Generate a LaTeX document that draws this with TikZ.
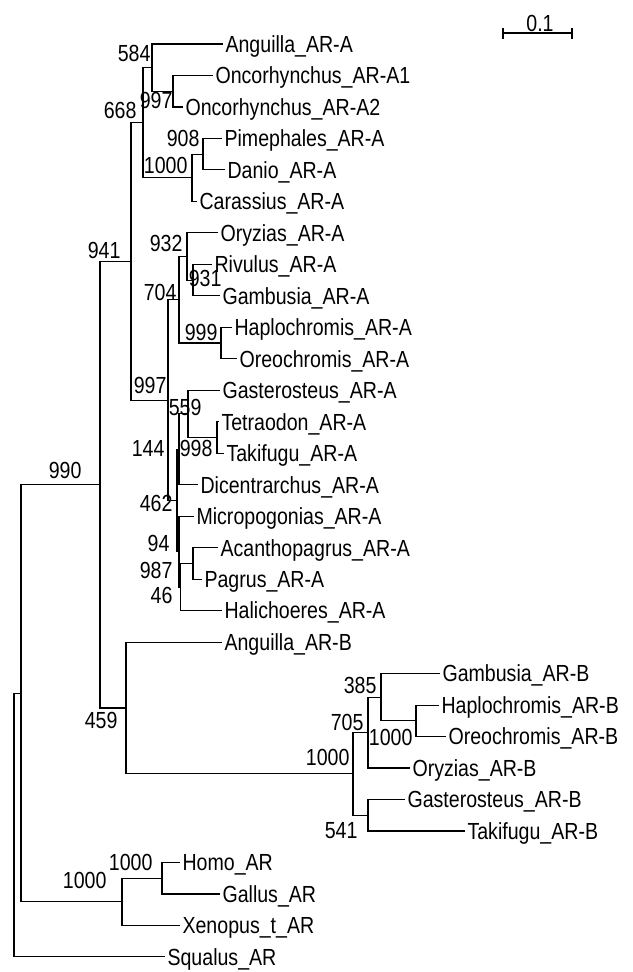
\documentclass[tikz,border=0pt]{standalone}
\usepackage{fontspec}
\setmainfont{Liberation Sans}[FakeStretch=0.84]
\begin{document}
\begin{tikzpicture}[x=1pt, y=-1pt, line width=1.1pt, leaf/.style={anchor=west, inner xsep=2pt, inner ysep=0pt, text height=16.7pt, text depth=0pt, font=\fontsize{23.3}{28}\selectfont}, boot/.style={leaf, anchor=east, inner xsep=0pt}]
	\useasboundingbox (0,0) rectangle (632,972);
	% internal nodes
	\coordinate (nOnc) at (173,91.2);
	\coordinate (n584) at (152,67.6);
	\coordinate (n908) at (203,154.2);
	\coordinate (nCyp) at (192,177.8);
	\coordinate (n668) at (143,122.7);
	\coordinate (n931) at (193,280.1);
	\coordinate (n932) at (187,256.5);
	\coordinate (n999) at (221,343.0);
	\coordinate (n704) at (179,299.8);
	\coordinate (n998) at (217,437.5);
	\coordinate (n559) at (188,413.9);
	\coordinate (n144) at (179,449.3);
	\coordinate (nSpar) at (193,563.4);
	\coordinate (n46) at (180.5,587.0);
	\coordinate (n94) at (179,551.6);
	\coordinate (n462) at (177,500.5);
	\coordinate (n997) at (168,400.1);
	\coordinate (n941) at (131,261.4);
	\coordinate (nHO) at (416,720.8);
	\coordinate (n385) at (381,697.2);
	\coordinate (n705) at (368,732.6);
	\coordinate (n541) at (368,815.2);
	\coordinate (nB) at (353,773.9);
	\coordinate (n459) at (126,708.0);
	\coordinate (n990) at (100,484.7);
	\coordinate (nHG) at (162,878.2);
	\coordinate (nTet) at (122,901.8);
	\coordinate (nOst) at (21,693.2);
	\coordinate (nRoot) at (14,825.1);
	% leaves
	\node[leaf] (angA) at (223,44.0) {Anguilla\_AR-A};
	\node[leaf] (oncA1) at (213,75.5) {Oncorhynchus\_AR-A1};
	\node[leaf] (oncA2) at (183,107.0) {Oncorhynchus\_AR-A2};
	\node[leaf] (pimA) at (222,138.4) {Pimephales\_AR-A};
	\node[leaf] (danA) at (225,169.9) {Danio\_AR-A};
	\node[leaf] (carA) at (197,201.4) {Carassius\_AR-A};
	\node[leaf] (oryA) at (218,232.9) {Oryzias\_AR-A};
	\node[leaf] (rivA) at (212,264.4) {Rivulus\_AR-A};
	\node[leaf] (gamA) at (220,295.8) {Gambusia\_AR-A};
	\node[leaf] (hapA) at (232,327.3) {Haplochromis\_AR-A};
	\node[leaf] (oreA) at (237,358.8) {Oreochromis\_AR-A};
	\node[leaf] (gasA) at (220,390.3) {Gasterosteus\_AR-A};
	\node[leaf] (tetA) at (219,421.8) {Tetraodon\_AR-A};
	\node[leaf] (takA) at (224,453.2) {Takifugu\_AR-A};
	\node[leaf] (dicA) at (198,484.7) {Dicentrarchus\_AR-A};
	\node[leaf] (micA) at (194,516.2) {Micropogonias\_AR-A};
	\node[leaf] (acaA) at (218,547.7) {Acanthopagrus\_AR-A};
	\node[leaf] (pagA) at (202,579.2) {Pagrus\_AR-A};
	\node[leaf] (halA) at (222,610.6) {Halichoeres\_AR-A};
	\node[leaf] (angB) at (222,642.1) {Anguilla\_AR-B};
	\node[leaf] (gamB) at (440,673.6) {Gambusia\_AR-B};
	\node[leaf] (hapB) at (439,705.1) {Haplochromis\_AR-B};
	\node[leaf] (oreB) at (446,736.6) {Oreochromis\_AR-B};
	\node[leaf] (oryB) at (410,768.0) {Oryzias\_AR-B};
	\node[leaf] (gasB) at (405,799.5) {Gasterosteus\_AR-B};
	\node[leaf] (takB) at (465,831.0) {Takifugu\_AR-B};
	\node[leaf] (homo) at (180,862.5) {Homo\_AR};
	\node[leaf] (gallus) at (220,894.0) {Gallus\_AR};
	\node[leaf] (xeno) at (180,925.4) {Xenopus\_t\_AR};
	\node[leaf] (squalus) at (165,956.9) {Squalus\_AR};
	% branches
	\draw (n584) |- (angA.west);
	\draw (n584) |- (nOnc);
	\draw (nOnc) |- (oncA1.west);
	\draw (nOnc) |- (oncA2.west);
	\draw (n908) |- (pimA.west);
	\draw (n908) |- (danA.west);
	\draw (nCyp) |- (n908);
	\draw (nCyp) |- (carA.west);
	\draw (n668) |- (n584);
	\draw (n668) |- (nCyp);
	\draw (n931) |- (rivA.west);
	\draw (n931) |- (gamA.west);
	\draw (n932) |- (oryA.west);
	\draw (n932) |- (n931);
	\draw (n999) |- (hapA.west);
	\draw (n999) |- (oreA.west);
	\draw (n704) |- (n932);
	\draw (n704) |- (n999);
	\draw (n998) |- (tetA.west);
	\draw (n998) |- (takA.west);
	\draw (n559) |- (gasA.west);
	\draw (n559) |- (n998);
	\draw (n144) |- (n559);
	\draw (n144) |- (dicA.west);
	\draw (nSpar) |- (acaA.west);
	\draw (nSpar) |- (pagA.west);
	\draw (n46) |- (nSpar);
	\draw (n46) |- (halA.west);
	\draw (n94) |- (micA.west);
	\draw (n94) |- (n46);
	\draw (n462) |- (n144);
	\draw (n462) |- (n94);
	\draw (n997) |- (n704);
	\draw (n997) |- (n462);
	\draw (n941) |- (n668);
	\draw (n941) |- (n997);
	\draw (nHO) |- (hapB.west);
	\draw (nHO) |- (oreB.west);
	\draw (n385) |- (gamB.west);
	\draw (n385) |- (nHO);
	\draw (n705) |- (n385);
	\draw (n705) |- (oryB.west);
	\draw (n541) |- (gasB.west);
	\draw (n541) |- (takB.west);
	\draw (nB) |- (n705);
	\draw (nB) |- (n541);
	\draw (n459) |- (angB.west);
	\draw (n459) |- (nB);
	\draw (n990) |- (n941);
	\draw (n990) |- (n459);
	\draw (nHG) |- (homo.west);
	\draw (nHG) |- (gallus.west);
	\draw (nTet) |- (nHG);
	\draw (nTet) |- (xeno.west);
	\draw (nOst) |- (n990);
	\draw (nOst) |- (nTet);
	\draw (nRoot) |- (nOst);
	\draw (nRoot) |- (squalus.west);
	% bootstrap values
	\node[boot] (b584) at (151,53) {584};
	\node[boot] (bOnc) at (173,100) {997};
	\node[boot] (b668) at (137,110) {668};
	\node[boot] (b908) at (200,138) {908};
	\node[boot] (bCyp) at (188,165) {1000};
	\node[boot] (b941) at (121,250) {941};
	\node[boot] (b932) at (183,243) {932};
	\node[boot] (b931) at (222,278) {931};
	\node[boot] (b704) at (177,292) {704};
	\node[boot] (b999) at (218,332) {999};
	\node[boot] (b997) at (167,385) {997};
	\node[boot] (b559) at (202,407) {559};
	\node[boot] (b998) at (213,448) {998};
	\node[boot] (b144) at (165,448) {144};
	\node[boot] (b462) at (173,503) {462};
	\node[boot] (b94) at (170,543) {94};
	\node[boot] (bSpar) at (173,570) {987};
	\node[boot] (b46) at (173,595) {46};
	\node[boot] (b990) at (82,470) {990};
	\node[boot] (b459) at (118,720) {459};
	\node[boot] (b385) at (377,685) {385};
	\node[boot] (b705) at (364,722) {705};
	\node[boot] (bHO) at (413,737) {1000};
	\node[boot] (bB) at (350,757) {1000};
	\node[boot] (b541) at (358,830) {541};
	\node[boot] (bTet) at (107,880) {1000};
	\node[boot] (bHG) at (153,862) {1000};
	% scale bar
	\coordinate (sbL) at (503,33);
	\coordinate (sbR) at (572,33);
	\draw (sbL) -- (sbR);
	\draw ([yshift=-5.5pt]sbL) -- ([yshift=5.5pt]sbL);
	\draw ([yshift=-5.5pt]sbR) -- ([yshift=5.5pt]sbR);
	\node[leaf, anchor=center] (sbText) at (540,23) {0.1};
\end{tikzpicture}
\end{document}
